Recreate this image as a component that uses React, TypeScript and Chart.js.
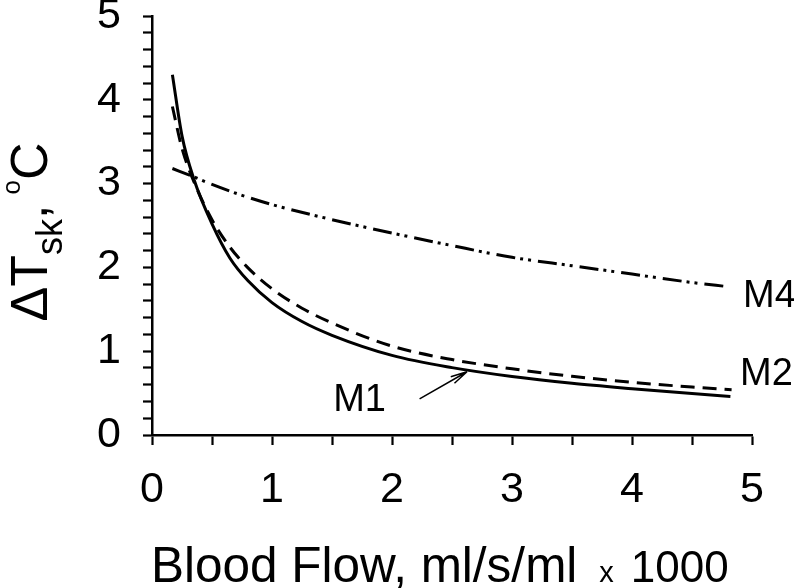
import React, { useEffect, useRef } from "react";
import { Chart, registerables } from "chart.js";

Chart.register(...registerables);

// Blood flow (ml/s/ml x 1000) and ΔTsk (°C)
const M1_X = [0.17, 0.25, 0.35, 0.5, 0.65, 0.8, 1.0, 1.25, 1.5, 2.0, 2.5, 3.0, 3.5, 4.0, 4.5, 4.82];
const M1_Y = [4.3, 3.57, 3.05, 2.52, 2.11, 1.84, 1.58, 1.354, 1.19, 0.95, 0.804, 0.698, 0.617, 0.553, 0.495, 0.46];

const M2_X = [0.17, 0.25, 0.35, 0.5, 0.65, 0.8, 1.0, 1.25, 1.5, 2.0, 2.5, 3.0, 3.5, 4.0, 4.5, 4.83];
const M2_Y = [3.92, 3.42, 3.02, 2.57, 2.24, 1.995, 1.745, 1.513, 1.336, 1.06, 0.9, 0.79, 0.7, 0.629, 0.572, 0.54];

const M4_X = [0.17, 0.35, 0.5, 0.75, 1.0, 1.5, 2.0, 2.5, 3.0, 3.5, 4.0, 4.5, 4.8];
const M4_Y = [3.18, 3.08, 2.99, 2.86, 2.75, 2.57, 2.41, 2.26, 2.12, 2.02, 1.92, 1.82, 1.77];

const X_MIN = 0;
const X_MAX = 5;
const X_STEP = 0.5;
const Y_MIN = 0;
const Y_MAX = 5;
const Y_STEP = 0.2;

// Labels placed in data coordinates
const LABELS = [
  { text: "M1", x: 1.51, y: 0.29 },
  { text: "M2", x: 4.9, y: 0.6 },
  { text: "M4", x: 4.925, y: 1.53 },
];
const ARROW_FROM = { x: 2.23, y: 0.43 };
const ARROW_TO = { x: 2.625, y: 0.755 };

const FONT = '"Liberation Sans", Arial, sans-serif';

const toPts = (xs: number[], ys: number[]) => xs.map((x, i) => ({ x, y: ys[i] }));

const isInt = (v: number) => Math.abs(v - Math.round(v)) < 1e-6;

const overlayPlugin = {
  id: "overlay",
  afterDraw(chart: any) {
    const ctx = chart.ctx as CanvasRenderingContext2D;
    const xs = chart.scales.x;
    const ys = chart.scales.y;
    ctx.save();
    ctx.fillStyle = "#000";
    ctx.strokeStyle = "#000";
    ctx.textBaseline = "alphabetic";
    ctx.textAlign = "left";

    // Series labels
    ctx.font = `38px ${FONT}`;
    for (const l of LABELS) {
      ctx.fillText(l.text, xs.getPixelForValue(l.x), ys.getPixelForValue(l.y));
    }

    // Arrow
    const x0 = xs.getPixelForValue(ARROW_FROM.x);
    const y0 = ys.getPixelForValue(ARROW_FROM.y);
    const x1 = xs.getPixelForValue(ARROW_TO.x);
    const y1 = ys.getPixelForValue(ARROW_TO.y);
    ctx.lineWidth = 1.5;
    ctx.beginPath();
    ctx.moveTo(x0, y0);
    ctx.lineTo(x1, y1);
    const ang = Math.atan2(y0 - y1, x0 - x1);
    const hl = 17;
    for (const d of [-0.22, 0.22]) {
      ctx.moveTo(x1, y1);
      ctx.lineTo(x1 + hl * Math.cos(ang + d), y1 + hl * Math.sin(ang + d));
    }
    ctx.stroke();

    // X axis title
    const bx = 151;
    const by = 582;
    ctx.font = `49.5px ${FONT}`;
    const t1 = "Blood Flow, ml/s/ml";
    ctx.fillText(t1, bx, by);
    let cx = bx + ctx.measureText(t1).width + 22;
    ctx.font = `29px ${FONT}`;
    ctx.fillText("x", cx, by);
    cx += ctx.measureText("x").width + 17;
    ctx.font = `44px ${FONT}`;
    ctx.fillText("1000", cx, by);

    // Y axis title (rotated)
    const big = `52px ${FONT}`;
    const small = `36px ${FONT}`;
    const parts = [
      { t: "\u0394T", f: big, dy: 0 },
      { t: "sk", f: small, dy: 15 },
      { t: ",", f: big, dy: 0 },
      { t: " ", f: small, dy: 0 },
      { t: "o", f: `26px ${FONT}`, dy: -27 },
      { t: "C", f: big, dy: 0 },
    ];
    let total = 0;
    const widths: number[] = [];
    for (const p of parts) {
      ctx.font = p.f;
      const w = ctx.measureText(p.t).width;
      widths.push(w);
      total += w;
    }
    ctx.translate(47, 232);
    ctx.rotate(-Math.PI / 2);
    let px = -total / 2;
    parts.forEach((p, i) => {
      ctx.font = p.f;
      ctx.fillText(p.t, px, p.dy);
      px += widths[i];
    });
    ctx.restore();
  },
};

export default function App() {
  const ref = useRef<HTMLCanvasElement | null>(null);
  useEffect(() => {
    if (!ref.current) return;
    const common = {
      borderColor: "#000",
      borderWidth: 3,
      pointRadius: 0,
      cubicInterpolationMode: "monotone",
      fill: false,
    };
    const chart = new Chart(ref.current, {
      type: "line",
      data: {
        datasets: [
          { label: "M1", data: toPts(M1_X, M1_Y), ...common },
          { label: "M2", data: toPts(M2_X, M2_Y), ...common, borderDash: [14, 8] },
          { label: "M4", data: toPts(M4_X, M4_Y), ...common, borderDash: [19, 5, 3, 5, 3, 7] },
        ],
      },
      options: {
        responsive: false,
        animation: false,
        devicePixelRatio: 1,
        layout: { padding: { left: 0, top: 16, right: 42, bottom: 0 } },
        plugins: {
          legend: { display: false },
          tooltip: { enabled: false },
          title: { display: false },
        },
        scales: {
          x: {
            type: "linear",
            min: X_MIN,
            max: X_MAX,
            border: { display: true, color: "#000", width: 2.5 },
            grid: {
              display: true,
              drawOnChartArea: false,
              drawTicks: true,
              tickLength: 10,
              tickColor: "#000",
              tickWidth: 2.2,
            },
            ticks: {
              stepSize: X_STEP,
              autoSkip: false,
              maxRotation: 0,
              color: "#000",
              padding: 19,
              font: { family: FONT, size: 43 },
              callback: (v: any) => (isInt(Number(v)) ? String(Math.round(Number(v))) : ""),
            },
            afterFit: (s: any) => {
              s.height = 588 - 435;
              s.paddingLeft = 0;
              s.paddingRight = 0;
            },
          },
          y: {
            type: "linear",
            min: Y_MIN,
            max: Y_MAX,
            border: { display: true, color: "#000", width: 2.5 },
            grid: {
              display: true,
              drawOnChartArea: false,
              drawTicks: true,
              tickLength: 9,
              tickColor: "#000",
              tickWidth: 2.2,
            },
            ticks: {
              stepSize: Y_STEP,
              autoSkip: false,
              color: "#000",
              padding: 22,
              font: { family: FONT, size: 43 },
              callback: (v: any) => (isInt(Number(v)) ? String(Math.round(Number(v))) : ""),
            },
            afterFit: (s: any) => {
              s.width = 152;
              s.paddingTop = 0;
              s.paddingBottom = 0;
            },
          },
        },
      },
      plugins: [overlayPlugin],
    } as any);
    return () => chart.destroy();
  }, []);
  return (
    <div style={{ position: "fixed", left: 0, top: 0, width: 794, height: 588, background: "#fff" }}>
      <canvas ref={ref} width={794} height={588} style={{ width: 794, height: 588, display: "block" }} />
    </div>
  );
}
